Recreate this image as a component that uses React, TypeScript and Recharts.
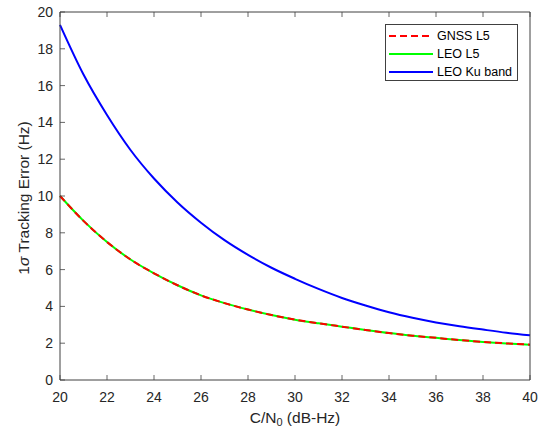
import { LineChart, Line, XAxis, YAxis } from 'recharts';

// C/N0 (dB-Hz)
const cn0 = [20, 21, 22, 23, 24, 25, 26, 27, 28, 29, 30, 31, 32, 33, 34, 35, 36, 37, 38, 39, 40];
// 1-sigma tracking error (Hz)
const gnssL5 = [10.0, 8.65, 7.5, 6.55, 5.8, 5.15, 4.6, 4.18, 3.83, 3.53, 3.28, 3.08, 2.9, 2.72, 2.55, 2.41, 2.29, 2.17, 2.07, 1.99, 1.92];
const leoL5 = [10.0, 8.65, 7.5, 6.55, 5.8, 5.15, 4.6, 4.18, 3.83, 3.53, 3.28, 3.08, 2.9, 2.72, 2.55, 2.41, 2.29, 2.17, 2.07, 1.99, 1.92];
const leoKu = [19.3, 16.6, 14.4, 12.5, 10.95, 9.65, 8.55, 7.6, 6.8, 6.1, 5.5, 4.95, 4.46, 4.05, 3.68, 3.38, 3.13, 2.92, 2.74, 2.57, 2.43];

const xTicks = [20, 22, 24, 26, 28, 30, 32, 34, 36, 38, 40];
const yTicks = [0, 2, 4, 6, 8, 10, 12, 14, 16, 18, 20];

const series = [
  { key: 'gnss', name: 'GNSS L5', color: '#ff0000', dash: '7 4' },
  { key: 'leo', name: 'LEO L5', color: '#00ff00', dash: undefined },
  { key: 'ku', name: 'LEO Ku band', color: '#0000ff', dash: undefined },
];

const data = cn0.map((x, i) => ({ x, gnss: gnssL5[i], leo: leoL5[i], ku: leoKu[i] }));

const AXIS = '#404040';
const TEXT = '#262626';
const FONT = '"Liberation Sans", Arial, Helvetica, sans-serif';

const BottomTick = ({ x, y, payload }: any) => (
  <g>
    <line x1={x} x2={x} y1={y} y2={y - 5} stroke={AXIS} strokeWidth={0.8} />
    <text x={x} y={y + 22} textAnchor="middle" fill={TEXT} fontSize={14} fontFamily={FONT}>
      {payload.value}
    </text>
  </g>
);

const TopTick = ({ x, y }: any) => (
  <line x1={x} x2={x} y1={y} y2={y + 5} stroke={AXIS} strokeWidth={0.8} />
);

const LeftTick = ({ x, y, payload }: any) => (
  <g>
    <line x1={x} x2={x + 5} y1={y} y2={y} stroke={AXIS} strokeWidth={0.8} />
    <text x={x - 7} y={y + 5} textAnchor="end" fill={TEXT} fontSize={14} fontFamily={FONT}>
      {payload.value}
    </text>
  </g>
);

const RightTick = ({ x, y }: any) => (
  <line x1={x} x2={x - 5} y1={y} y2={y} stroke={AXIS} strokeWidth={0.8} />
);

export default function App() {
  return (
    <div style={{ position: 'absolute', left: 0, top: 0, width: 544, height: 430, background: '#fff' }}>
      <LineChart
        width={544}
        height={430}
        data={data}
        margin={{ top: 11, right: 13, bottom: 0, left: 0 }}
      >
        <XAxis
          dataKey="x"
          type="number"
          domain={[20, 40]}
          ticks={xTicks}
          height={50}
          tickSize={0}
          tickMargin={0}
          tick={<BottomTick />}
          stroke={AXIS}
          interval={0}
        />
        <XAxis
          xAxisId="top"
          orientation="top"
          dataKey="x"
          type="number"
          domain={[20, 40]}
          ticks={xTicks}
          height={1}
          tickSize={0}
          tickMargin={0}
          tick={<TopTick />}
          stroke={AXIS}
          interval={0}
        />
        <YAxis
          type="number"
          domain={[0, 20]}
          ticks={yTicks}
          width={60}
          tickSize={0}
          tickMargin={0}
          tick={<LeftTick />}
          stroke={AXIS}
          interval={0}
        />
        <YAxis
          yAxisId="right"
          orientation="right"
          type="number"
          domain={[0, 20]}
          ticks={yTicks}
          width={1}
          tickSize={0}
          tickMargin={0}
          tick={<RightTick />}
          stroke={AXIS}
          interval={0}
        />
        <Line dataKey="leo" type="monotone" stroke="#00ff00" strokeWidth={2} dot={false} isAnimationActive={false} />
        <Line dataKey="gnss" type="monotone" stroke="#ff0000" strokeWidth={2} strokeDasharray="7 4" dot={false} isAnimationActive={false} />
        <Line dataKey="ku" type="monotone" stroke="#0000ff" strokeWidth={2} dot={false} isAnimationActive={false} />
      </LineChart>

      {/* axis titles */}
      <svg width={544} height={430} style={{ position: 'absolute', left: 0, top: 0, pointerEvents: 'none' }}>
        <text x={295} y={423} textAnchor="middle" fill={TEXT} fontSize={15.5} fontFamily={FONT}>
          C/N<tspan fontSize={11} dy={3}>0</tspan>
          <tspan dy={-3}> (dB-Hz)</tspan>
        </text>
        <text
          transform="translate(29,198) rotate(-90)"
          textAnchor="middle"
          fill={TEXT}
          fontSize={15.5}
          fontFamily={FONT}
        >
          1<tspan fontStyle="italic">σ</tspan> Tracking Error (Hz)
        </text>
      </svg>

      {/* legend */}
      <div
        style={{
          position: 'absolute',
          left: 385,
          top: 24,
          width: 133,
          height: 57,
          boxSizing: 'border-box',
          border: `1px solid ${AXIS}`,
          background: '#fff',
          fontFamily: FONT,
          fontSize: 12.5,
          color: '#000',
        }}
      >
        {series.map((s, i) => (
          <div
            key={s.key}
            style={{ position: 'absolute', left: 3, top: 2 + i * 18, height: 18, display: 'flex', alignItems: 'center' }}
          >
            <svg width={44} height={6} style={{ marginRight: 4 }}>
              <line x1={0} x2={44} y1={3} y2={3} stroke={s.color} strokeWidth={2} strokeDasharray={s.dash} />
            </svg>
            <span style={{ whiteSpace: 'nowrap' }}>{s.name}</span>
          </div>
        ))}
      </div>
    </div>
  );
}
